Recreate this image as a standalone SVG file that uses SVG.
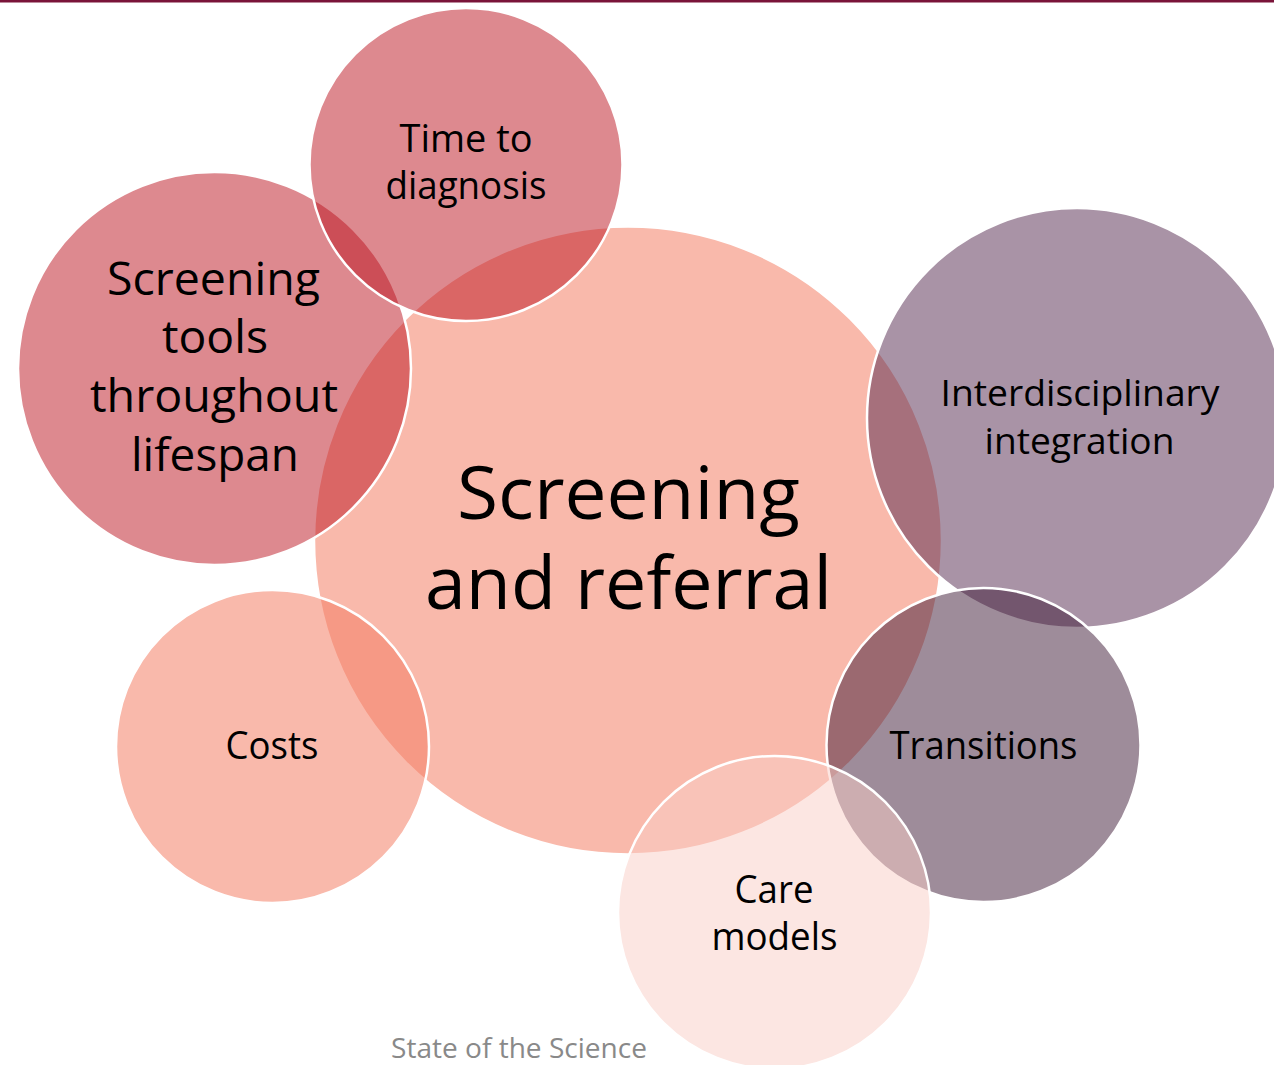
<svg xmlns="http://www.w3.org/2000/svg" width="1274" height="1065" viewBox="0 0 1274 1065">
<style>
  .c { stroke: #ffffff; stroke-width: 2.5; }
  .t { font-family: "Open Sans", "Liberation Sans", sans-serif; fill: #000000; text-anchor: middle; }
  .peach { fill: rgb(244,128,102); fill-opacity: 0.55; }
  .rose { fill: rgb(188,20,32); fill-opacity: 0.5; }
  .plum { fill: rgb(84,39,78); fill-opacity: 0.5; }
  .dplum { fill: rgb(61,25,53); fill-opacity: 0.5; }
  .blush { fill: rgb(250,205,198); fill-opacity: 0.5; }
</style>
<rect x="0" y="0" width="1274" height="1065" fill="#ffffff"/>
<rect x="0" y="0" width="1274" height="2.5" fill="#7A1439"/>
<g id="connectors"/>
<g id="node-screening-referral">
  <circle class="c peach" cx="628" cy="540.5" r="314"/>
  <text class="t" font-size="73" x="628.5" y="519" textLength="343" lengthAdjust="spacingAndGlyphs">Screening</text>
  <text class="t" font-size="73" x="628.5" y="609" textLength="407" lengthAdjust="spacingAndGlyphs">and referral</text>
</g>
<g id="node-screening-tools">
  <circle class="c rose" cx="214.5" cy="368.5" r="196.5"/>
  <text class="t" font-size="45" x="213.5" y="295" textLength="213" lengthAdjust="spacingAndGlyphs">Screening</text>
  <text class="t" font-size="45" x="215" y="353" textLength="106" lengthAdjust="spacingAndGlyphs">tools</text>
  <text class="t" font-size="45" x="214" y="412" textLength="248" lengthAdjust="spacingAndGlyphs">throughout</text>
  <text class="t" font-size="45" x="215" y="471" textLength="168" lengthAdjust="spacingAndGlyphs">lifespan</text>
</g>
<g id="node-time-to-diagnosis">
  <circle class="c rose" cx="466" cy="164.5" r="156.5"/>
  <text class="t" font-size="38" x="466" y="152" textLength="133" lengthAdjust="spacingAndGlyphs">Time to</text>
  <text class="t" font-size="38" x="466" y="199" textLength="161" lengthAdjust="spacingAndGlyphs">diagnosis</text>
</g>
<g id="node-interdisciplinary">
  <circle class="c plum" cx="1077" cy="418" r="210"/>
  <text class="t" font-size="36" x="1080" y="406" textLength="279" lengthAdjust="spacingAndGlyphs">Interdisciplinary</text>
  <text class="t" font-size="36" x="1079.5" y="454" textLength="190" lengthAdjust="spacingAndGlyphs">integration</text>
</g>
<g id="node-costs">
  <circle class="c peach" cx="272.5" cy="746.5" r="156.5"/>
  <text class="t" font-size="38" x="272" y="759" textLength="93" lengthAdjust="spacingAndGlyphs">Costs</text>
</g>
<g id="node-transitions">
  <circle class="c dplum" cx="983.5" cy="745" r="157"/>
  <text class="t" font-size="38" x="983.5" y="759" textLength="188" lengthAdjust="spacingAndGlyphs">Transitions</text>
</g>
<g id="node-care-models">
  <circle class="c blush" cx="774.5" cy="912.5" r="156.5"/>
  <text class="t" font-size="38" x="774" y="903" textLength="79" lengthAdjust="spacingAndGlyphs">Care</text>
  <text class="t" font-size="38" x="774.5" y="950" textLength="126" lengthAdjust="spacingAndGlyphs">models</text>
</g>
<text font-family="'Open Sans', 'Liberation Sans', sans-serif" font-size="28" fill="#898989" text-anchor="middle" x="519" y="1058" textLength="256" lengthAdjust="spacingAndGlyphs">State of the Science</text>
</svg>
